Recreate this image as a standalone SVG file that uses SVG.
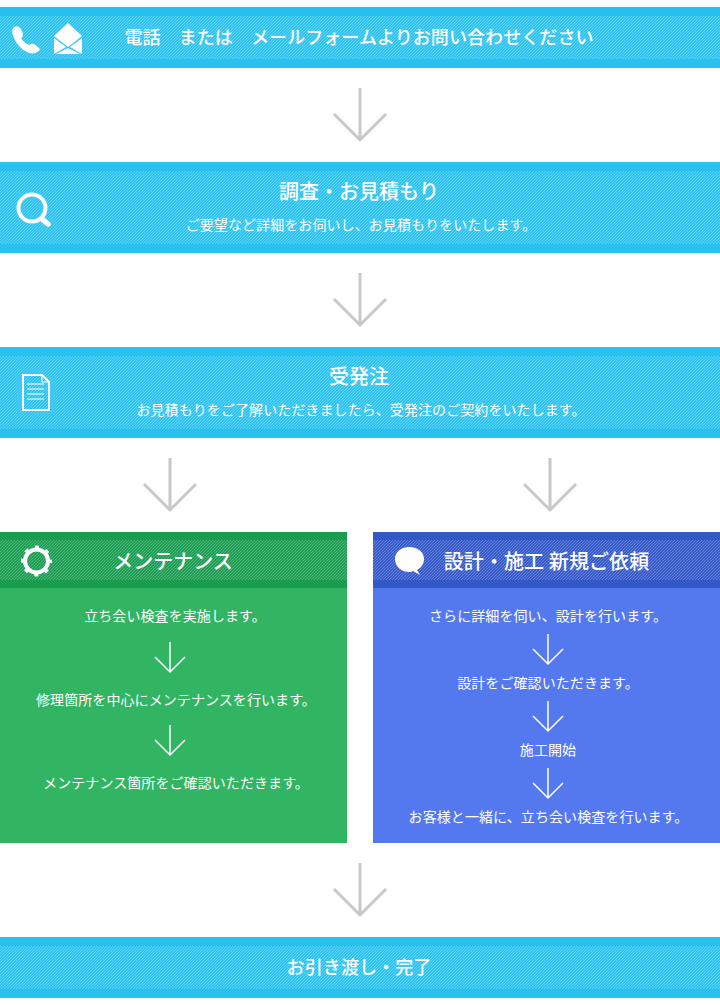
<svg xmlns="http://www.w3.org/2000/svg" width="720" height="1005" viewBox="0 0 720 1005">
<defs>
<pattern id="hb" width="3" height="3" patternUnits="userSpaceOnUse"><rect width="3" height="3" fill="#2fc3f0"/><path d="M2 0h1v1h-1zM1 1h1v1h-1zM0 2h1v1h-1z" fill="#62d2f4"/></pattern>
<pattern id="hg" width="3" height="3" patternUnits="userSpaceOnUse"><rect width="3" height="3" fill="#1f9f53"/><path d="M2 0h1v1h-1zM1 1h1v1h-1zM0 2h1v1h-1z" fill="#4fb27a"/></pattern>
<pattern id="hn" width="3" height="3" patternUnits="userSpaceOnUse"><rect width="3" height="3" fill="#385dca"/><path d="M2 0h1v1h-1zM1 1h1v1h-1zM0 2h1v1h-1z" fill="#637fd6"/></pattern>
<path id="big" d="M0 0V52M-26 26L0 52L26 26" fill="none" stroke="#c8c8c8" stroke-width="3"/>
<path id="small" d="M0 0V30M-15 15L0 30L15 15" fill="none" stroke="#fff" stroke-width="1.500"/>
</defs>
<style>
text{font-family:"Noto Sans CJK JP","Noto Sans CJK SC",sans-serif;fill:#fff;text-anchor:middle}
.t{font-size:20px;font-weight:500}
.h1{font-size:18px;letter-spacing:.08px;font-weight:500}
.s{font-size:14px;letter-spacing:.08px}
.i{fill:#fff}
</style>
<rect width="720" height="1005" fill="#fff"/>
<g id="connectors">
<use href="#big" x="360" y="88"/>
<use href="#big" x="360" y="273"/>
<use href="#big" x="170" y="458"/>
<use href="#big" x="550" y="458"/>
<use href="#big" x="360" y="863"/>
</g>
<g id="step1">
<rect y="7" width="720" height="61" fill="#27c1f0"/><rect y="16" width="720" height="43" fill="url(#hb)"/>
<path class="i" d="M14 27Q19 25 21 29L23 34Q23 37 21 38Q24 43 29 45Q31 43 34 44L39 48Q41 50 38 51.500Q33 55 27 52Q18 48 13 36Q11 29 14 27Z"/>
<path class="i" d="M68 23L82 36L68 47L54 36ZM54 38L66 47L54 54ZM82 38L70 47L82 54ZM56 54L68 48L80 54Z"/>
<text x="359" y="44" class="h1">電話　または　メールフォームよりお問い合わせください</text>
</g>
<g id="step2">
<rect y="162" width="720" height="91" fill="#27c1f0"/><rect y="171" width="720" height="73" fill="url(#hb)"/>
<circle cx="32" cy="208" r="13.500" fill="none" stroke="#fff" stroke-width="4"/><path d="M42 219L48 224" stroke="#fff" stroke-width="5.500" stroke-linecap="round"/>
<text x="359" y="199" class="t">調査・お見積もり</text>
<text x="361" y="230" class="s">ご要望など詳細をお伺いし、お見積もりをいたします。</text>
</g>
<g id="step3">
<rect y="347" width="720" height="91" fill="#27c1f0"/><rect y="356" width="720" height="73" fill="url(#hb)"/>
<path d="M23 375H42L49 382V410H23Z" fill="none" stroke="#fff" stroke-width="2"/><path d="M42 375V382H49" fill="none" stroke="#fff" stroke-width="1"/>
<path d="M27 384H44M27 389H44M27 394H44M27 399H44" stroke="#fff" stroke-width="1"/>
<text x="359" y="384" class="t">受発注</text>
<text x="361" y="415" class="s">お見積もりをご了解いただきましたら、受発注のご契約をいたします。</text>
</g>
<g id="maintenance">
<rect y="532" width="347" height="311" fill="#31b563"/>
<rect y="532" width="347" height="56" fill="#1a9c4e"/><rect y="540" width="347" height="40" fill="url(#hg)"/>
<circle cx="36.500" cy="561" r="11.500" fill="none" stroke="#fff" stroke-width="4"/>
<circle cx="36.500" cy="561" r="14" fill="none" stroke="#fff" stroke-width="3" stroke-dasharray="4 7" stroke-dashoffset="2"/>
<text x="173" y="569" class="t">メンテナンス</text>
<text x="175" y="621" class="s">立ち会い検査を実施します。</text>
<use href="#small" x="170" y="642"/>
<text x="176" y="705" class="s">修理箇所を中心にメンテナンスを行います。</text>
<use href="#small" x="170" y="725"/>
<text x="176" y="788" class="s">メンテナンス箇所をご確認いただきます。</text>
</g>
<g id="design">
<rect x="373" y="532" width="347" height="311" fill="#5479ef"/>
<rect x="373" y="532" width="347" height="56" fill="#3359c8"/><rect x="373" y="540" width="347" height="40" fill="url(#hn)"/>
<path class="i" d="M409 547C418 547 424 552 424 559C424 564 421 568 417 570L420 575L413 571C411 572 410 572 409 572C401 572 395 566 395 559C395 552 401 547 409 547Z"/>
<text x="546.500" y="569" class="t" style="letter-spacing:.1px">設計・施工 新規ご依頼</text>
<text x="548" y="621" class="s">さらに詳細を伺い、設計を行います。</text>
<use href="#small" x="548" y="634"/>
<text x="548" y="688" class="s">設計をご確認いただきます。</text>
<use href="#small" x="548" y="701"/>
<text x="548" y="755" class="s">施工開始</text>
<use href="#small" x="548" y="768"/>
<text x="548.500" y="822" class="s">お客様と一緒に、立ち会い検査を行います。</text>
</g>
<g id="step-final">
<rect y="937" width="720" height="61" fill="#27c1f0"/><rect y="946" width="720" height="43" fill="url(#hb)"/>
<text x="359" y="974" class="h1" style="letter-spacing:.1px">お引き渡し・完了</text>
</g>
</svg>
